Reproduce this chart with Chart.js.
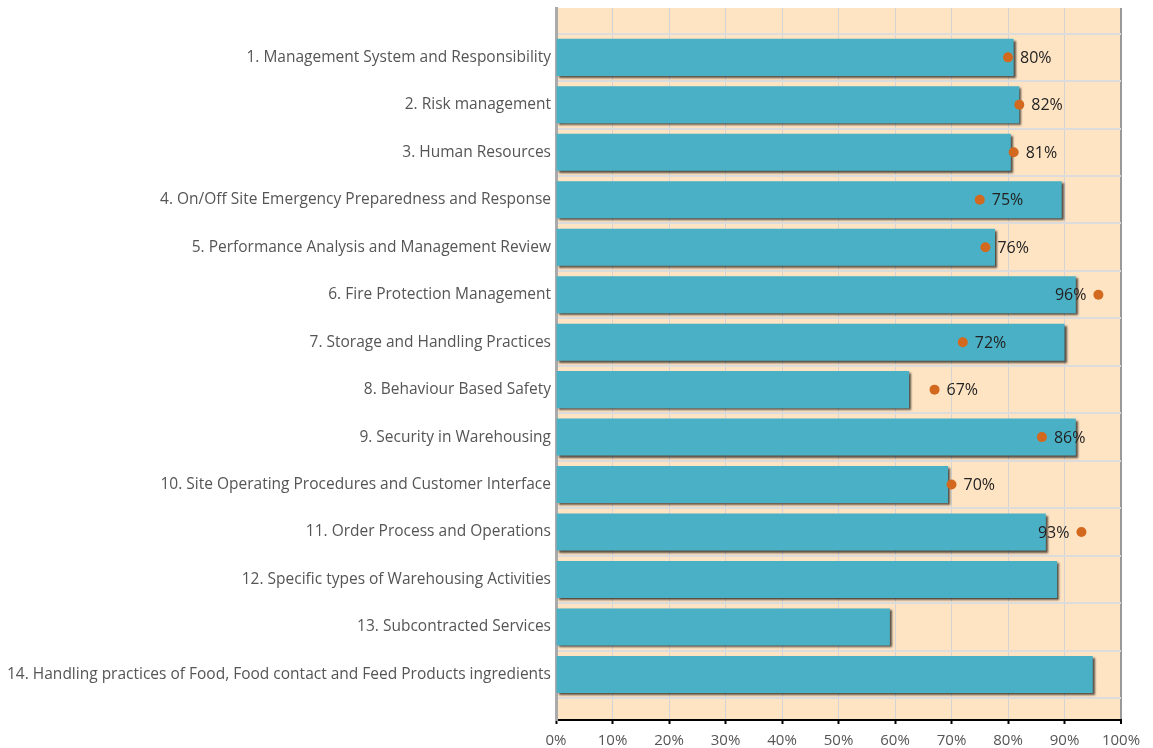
<!DOCTYPE html>
<html>
<head>
<meta charset="utf-8">
<script src="https://cdn.jsdelivr.net/npm/chart.js@4.4.1/dist/chart.umd.min.js"></script>
<style>
  html, body { margin: 0; padding: 0; background: #fff; }
  #wrap { width: 1153px; height: 748px; }
</style>
</head>
<body>
<div id="wrap"><canvas id="auditChart"></canvas></div>
<script>
const categories = [
    '1. Management System and Responsibility',
    '2. Risk management',
    '3. Human Resources',
    '4. On/Off Site Emergency Preparedness and Response',
    '5. Performance Analysis and Management Review',
    '6. Fire Protection Management',
    '7. Storage and Handling Practices',
    '8. Behaviour Based Safety',
    '9. Security in Warehousing',
    '10. Site Operating Procedures and Customer Interface',
    '11. Order Process and Operations',
    '12. Specific types of Warehousing Activities',
    '13. Subcontracted Services',
    '14. Handling practices of Food, Food contact and Feed Products ingredients'
];
// bar lengths (%)
const barValues = [81, 82, 80.5, 89.5, 77.7, 92, 90, 62.5, 92, 69.4, 86.7, 88.7, 59.1, 95];
// orange markers (%), none for the last three sections
const pointValues = [80, 82, 81, 75, 76, 96, 72, 67, 86, 70, 93, null, null, null];
const xTicks = [0, 10, 20, 30, 40, 50, 60, 70, 80, 90, 100];

const ctx = document.getElementById('auditChart').getContext('2d');

const plotBackground = {
    id: 'plotBackground',
    beforeDraw(chart) {
        const a = chart.chartArea;
        const c = chart.ctx;
        c.save();
        c.fillStyle = '#FFE4C4';
        c.fillRect(a.left, a.top, a.right - a.left, a.bottom - a.top);
        c.restore();
    }
};

const barShadow = {
    id: 'barShadow',
    beforeDatasetDraw(chart, args) {
        if (args.meta.type !== 'bar') return;
        const c = chart.ctx;
        c.save();
        c.shadowColor = 'rgba(0,0,0,0.65)';
        c.shadowOffsetX = 2;
        c.shadowOffsetY = 2;
        c.shadowBlur = 2;
    },
    afterDatasetDraw(chart, args) {
        if (args.meta.type !== 'bar') return;
        chart.ctx.restore();
    }
};

const pointLabels = {
    id: 'pointLabels',
    afterDatasetsDraw(chart) {
        const c = chart.ctx;
        const meta = chart.getDatasetMeta(0);
        c.save();
        c.font = '16px "Open Sans", sans-serif';
        c.fillStyle = '#222';
        c.textBaseline = 'middle';
        meta.data.forEach((pt, i) => {
            const v = pointValues[i];
            if (v === null) return;
            const txt = v + '%';
            if (v > 90) {
                c.textAlign = 'right';
                c.fillText(txt, pt.x - 12, pt.y + 1);
            } else {
                c.textAlign = 'left';
                c.fillText(txt, pt.x + 12, pt.y + 1);
            }
        });
        c.restore();
    }
};

new Chart(ctx, {
    data: {
        datasets: [{
            type: 'scatter',
            data: pointValues.map((v, i) => ({ x: v, y: i })),
            backgroundColor: '#D2691E',
            borderWidth: 0,
            pointRadius: 5,
            pointHoverRadius: 5,
            order: 0
        }, {
            type: 'bar',
            data: barValues.map((v, i) => ({ x: v, y: i })),
            backgroundColor: '#4AB0C5',
            borderWidth: 0,
            categoryPercentage: 0.78,
            barPercentage: 1,
            order: 1
        }]
    },
    options: {
        indexAxis: 'y',
        responsive: true,
        maintainAspectRatio: false,
        animation: false,
        layout: { padding: { top: 8, right: 32, left: 0, bottom: 0 } },
        scales: {
            x: {
                type: 'linear',
                min: 0,
                max: 100,
                afterBuildTicks: (scale) => { scale.ticks = xTicks.map(v => ({ value: v })); },
                afterFit: (scale) => { scale.height = 28; scale.paddingLeft = 0; scale.paddingRight = 0; },
                border: { color: '#000', width: 2 },
                grid: {
                    color: (c) => c.tick && c.tick.value === 100 ? '#999' : '#d4d4d4',
                    lineWidth: (c) => c.tick && c.tick.value === 100 ? 2 : 1,
                    tickColor: '#000',
                    tickLength: 4,
                    tickWidth: 2
                },
                ticks: {
                    padding: 8,
                    color: '#555',
                    font: { family: '"Open Sans", sans-serif', size: 15 },
                    callback: (v) => v + '%'
                }
            },
            y: {
                type: 'linear',
                reverse: true,
                offset: false,
                min: -1.04,
                max: 13.96,
                afterBuildTicks: (scale) => { scale.ticks = categories.map((_, i) => ({ value: i })); },
                afterFit: (scale) => { scale.width = 556; scale.paddingTop = 0; scale.paddingBottom = 0; },
                border: { color: '#aaa', width: 3 },
                grid: {
                    offset: true,
                    drawTicks: false,
                    color: '#dcdcdc',
                    lineWidth: 2
                },
                ticks: {
                    padding: 5,
                    color: '#555',
                    font: { family: '"Open Sans", sans-serif', size: 15.5 },
                    callback: (v) => categories[v]
                }
            }
        },
        plugins: {
            legend: { display: false },
            tooltip: { enabled: false }
        }
    },
    plugins: [plotBackground, barShadow, pointLabels]
});
</script>
</body>
</html>
